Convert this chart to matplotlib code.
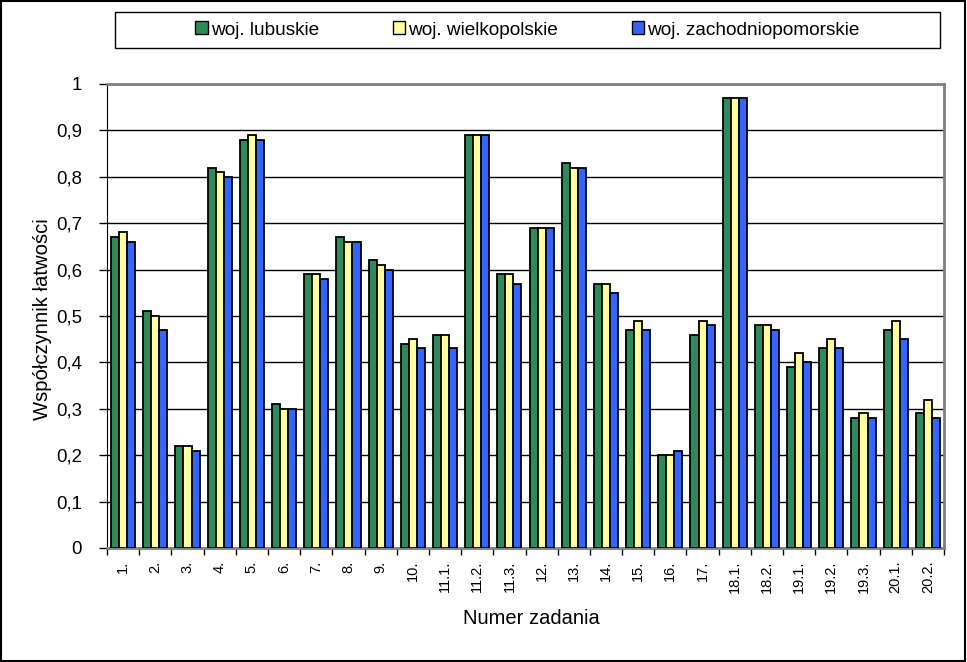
import numpy as np
import matplotlib
matplotlib.use("Agg")
import matplotlib.pyplot as plt
from matplotlib.patches import Rectangle

plt.rcParams["font.family"] = ["Liberation Sans", "DejaVu Sans"]

categories = ["1.", "2.", "3.", "4.", "5.", "6.", "7.", "8.", "9.", "10.",
              "11.1.", "11.2.", "11.3.", "12.", "13.", "14.", "15.", "16.", "17.",
              "18.1.", "18.2.", "19.1.", "19.2.", "19.3.", "20.1.", "20.2."]
lubuskie = [0.67, 0.51, 0.22, 0.82, 0.88, 0.31, 0.59, 0.67, 0.62, 0.44,
            0.46, 0.89, 0.59, 0.69, 0.83, 0.57, 0.47, 0.20, 0.46,
            0.97, 0.48, 0.39, 0.43, 0.28, 0.47, 0.29]
wielkopolskie = [0.68, 0.50, 0.22, 0.81, 0.89, 0.30, 0.59, 0.66, 0.61, 0.45,
                 0.46, 0.89, 0.59, 0.69, 0.82, 0.57, 0.49, 0.20, 0.49,
                 0.97, 0.48, 0.42, 0.45, 0.29, 0.49, 0.32]
zachodniopomorskie = [0.66, 0.47, 0.21, 0.80, 0.88, 0.30, 0.58, 0.66, 0.60, 0.43,
                      0.43, 0.89, 0.57, 0.69, 0.82, 0.55, 0.47, 0.21, 0.48,
                      0.97, 0.47, 0.40, 0.43, 0.28, 0.45, 0.28]
series_names = ["woj. lubuskie", "woj. wielkopolskie", "woj. zachodniopomorskie"]
colors = ["#2E8B57", "#FFFFA0", "#3366FF"]

W, H = 967, 662
fig = plt.figure(figsize=(W / 100, H / 100), dpi=100)
ax = fig.add_axes([107 / W, 1 - 548 / H, (944 - 107) / W, (548 - 84) / H])

x = np.arange(len(categories))
w = 0.25
for i, (vals, name, col) in enumerate(zip([lubuskie, wielkopolskie, zachodniopomorskie],
                                          series_names, colors)):
    ax.bar(x + (i - 1) * w, vals, width=w, color=col, edgecolor="black",
           linewidth=1.3, label=name, zorder=3)

ax.set_xlim(-0.5, len(categories) - 0.5)
ax.set_ylim(0, 1)
ax.set_yticks(np.arange(0, 1.01, 0.1))
ax.set_yticklabels(["0"] + [f"0,{k}" for k in range(1, 10)] + ["1"], fontsize=13.4)
ax.yaxis.grid(True, color="black", linewidth=1, zorder=0)
ax.tick_params(axis="y", direction="out", length=6, width=1, pad=12)

ax.set_xticks(x)
ax.set_xticklabels(categories, rotation=90, fontsize=10.5, va="top")
ax.tick_params(axis="x", which="major", length=0, pad=9)
ax.set_xticks(np.arange(-0.5, len(categories), 1), minor=True)
ax.tick_params(axis="x", which="minor", direction="out", length=5, width=1)

for s in ["top", "right", "bottom"]:
    ax.spines[s].set_color("#808080")
    ax.spines[s].set_linewidth(2)
ax.spines["left"].set_color("black")

fig.text(531 / W, 1 - 619 / H, "Numer zadania", fontsize=14.5,
         ha="center", va="center")
fig.text(43 / W, 1 - 319 / H, "Współczynnik łatwości", fontsize=14.6,
         ha="center", va="center", rotation=90)

# legend box drawn separately, entries centred inside it
fig.patches.append(Rectangle((115 / W, 1 - 48 / H), (940 - 115) / W, 36 / H,
                             transform=fig.transFigure, fill=False,
                             edgecolor="black", linewidth=1))
leg = fig.legend(loc="center", bbox_to_anchor=(527.5 / W, 1 - 30 / H), ncol=3,
                 fontsize=13.7, frameon=False,
                 handlelength=0.65, handleheight=0.65, handletextpad=0.15,
                 columnspacing=3.9, borderpad=0)
for h in leg.legend_handles:
    h.set_linewidth(1)

fig.patches.append(Rectangle((0.001, 0.001), 0.997, 0.997, transform=fig.transFigure,
                             fill=False, edgecolor="black", linewidth=1.5))

fig.savefig("out.png", dpi=100)
